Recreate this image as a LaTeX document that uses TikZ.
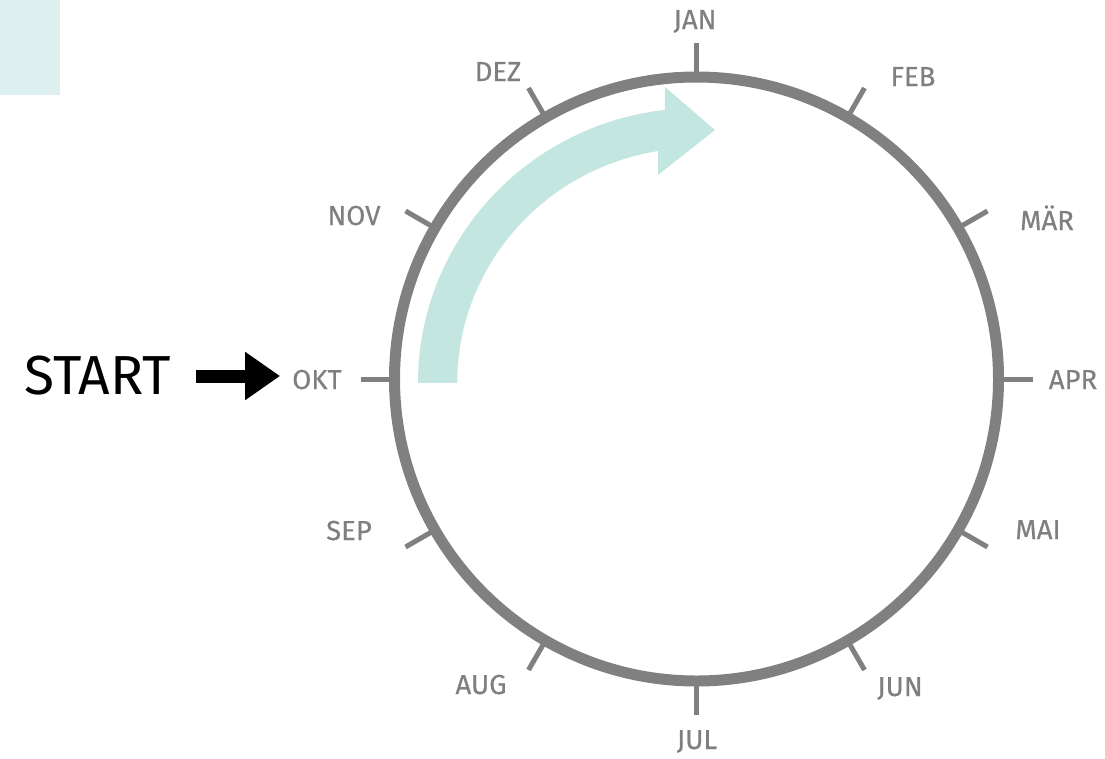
\documentclass[tikz,border=0pt]{standalone}
\usepackage{fontspec}
\setmainfont{Fira Sans}
\newfontfamily\labelfont[FakeBold=0.4]{Fira Sans}
\usetikzlibrary{arrows.meta}
\definecolor{ringgray}{HTML}{808080}
\definecolor{labelgray}{HTML}{7F7F7F}
\definecolor{teallight}{HTML}{C3E6E1}
\definecolor{tealpale}{HTML}{DDEFEE}
\begin{document}
\begin{tikzpicture}[x=1pt,y=-1pt,
  month/.style={text=labelgray,font=\labelfont\fontsize{27.5}{27.5}\selectfont,inner sep=0pt,anchor=base},
  tickmark/.style={draw=ringgray,line width=5pt},
  ring/.style={draw=ringgray,line width=11pt}]
\useasboundingbox (0,0) rectangle (1105,758);
\fill[tealpale] (0,0) rectangle (60,95);
% teal curved arrow
\fill[teallight] (418,383) arc[start angle=180,end angle=263.4,x radius=279,y radius=275]
  -- (665,87) -- (715,130) -- (658,175) -- (658,151)
  arc[start angle=260.6,end angle=180,x radius=240,y radius=235] -- cycle;
% ring
\coordinate (c) at (696.5,379);
\draw[ring] (c) circle[radius=302];
\foreach \a in {0,30,...,330}{
  \draw[tickmark] ([shift={(c)}]-\a:302) -- ([shift={(c)}]-\a:336);
}
% labels
\node[month] (jan) at (695,29) {JAN};
\node[month] (feb) at (913,86) {FEB};
\node[month] (mar) at (1047,230) {MÄR};
\node[month] (apr) at (1073,389) {APR};
\node[month] (mai) at (1038,539) {MAI};
\node[month] (jun) at (900,696) {JUN};
\node[month] (jul) at (697,749) {JUL};
\node[month] (aug) at (481,694) {AUG};
\node[month] (sep) at (349,540) {SEP};
\node[month] (okt) at (317,389) {OKT};
\node[month] (nov) at (354,225) {NOV};
\node[month] (dez) at (498,81) {DEZ};
\node[inner sep=0pt,font=\fontsize{55}{55}\selectfont] (start) at (97.5,376) {START};
\draw[line width=13pt,-{Triangle[length=35pt,width=46pt]}] ([xshift=25pt]start.east) -- ([xshift=-12pt]okt.west |- start.east);
\end{tikzpicture}
\end{document}
